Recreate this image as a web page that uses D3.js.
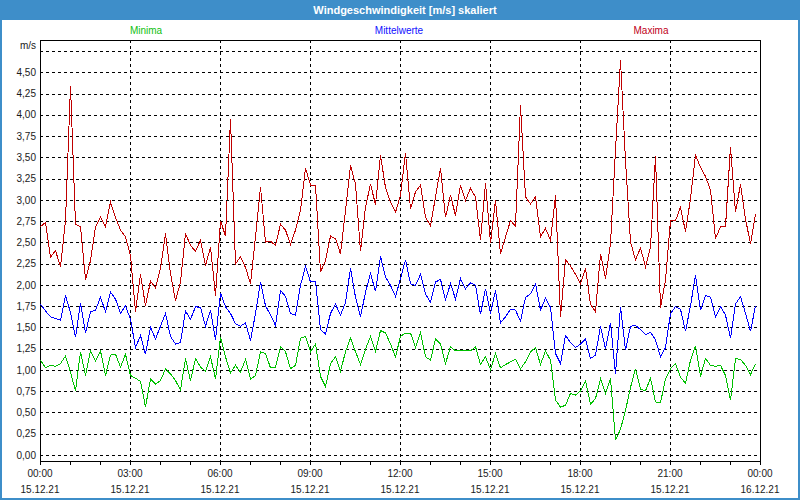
<!DOCTYPE html>
<html><head><meta charset="utf-8">
<script src="https://cdn.jsdelivr.net/npm/d3@7/dist/d3.min.js"></script>
<style>body{margin:0;background:#fff}svg{display:block}text{font-family:"Liberation Sans",Arial,sans-serif}</style>
</head><body><svg id="c" width="800" height="500"></svg>
<script>
const title = "Windgeschwindigkeit [m/s] skaliert";
const seriesNames = ["Minima", "Mittelwerte", "Maxima"];
const seriesColors = ["#00c000", "#0000ff", "#c00000"];
const legendColors = ["#10c010", "#1010ff", "#c00020"];
const unitLabel = "m/s";
const startTime = new Date(2021, 11, 15, 0, 0);
const endTime = new Date(2021, 11, 16, 0, 0);
const stepMinutes = 10;
const yTicks = [0,0.25,0.5,0.75,1,1.25,1.5,1.75,2,2.25,2.5,2.75,3,3.25,3.5,3.75,4,4.25,4.5];
const yGrid = [0,0.25,0.5,0.75,1,1.25,1.5,1.75,2,2.25,2.5,2.75,3,3.25,3.5,3.75,4,4.25,4.5,4.75];

const maxima = [2.69,2.74,2.33,2.41,2.22,2.76,4.35,2.72,2.69,2.07,2.29,2.69,2.80,2.69,2.98,2.80,
2.65,2.57,2.35,1.69,2.13,1.76,2.05,1.97,2.20,2.61,2.14,1.82,2.04,2.61,2.47,2.40,
2.53,2.23,2.45,1.88,2.76,2.58,3.96,2.25,2.34,2.21,2.02,2.57,3.16,2.51,2.52,2.47,
2.72,2.65,2.48,2.65,2.88,3.38,3.18,3.18,2.16,2.29,2.58,2.55,2.37,2.88,3.41,3.19,
2.40,2.92,3.19,2.95,3.53,3.15,2.98,2.86,3.06,3.56,2.90,3.10,3.18,2.80,2.70,3.04,
3.38,2.80,3.06,2.82,3.18,3.00,3.14,3.04,2.53,3.20,2.50,3.00,2.37,2.57,2.76,2.70,
4.12,3.04,2.96,3.04,2.57,2.67,2.53,3.06,1.63,2.30,2.23,2.13,2.02,2.20,1.78,1.69,
2.37,2.08,2.49,3.59,4.65,3.47,2.51,2.30,2.44,2.22,2.45,3.52,1.74,2.06,2.76,2.76,
2.92,2.63,3.02,3.53,3.39,3.28,3.12,2.55,2.69,2.69,3.63,2.86,3.19,2.78,2.49,2.84];

const mittel = [1.78,1.70,1.63,1.61,1.59,1.88,1.68,1.39,1.79,1.44,1.69,1.71,1.86,1.69,1.92,1.84,
1.67,1.76,1.60,1.27,1.41,1.19,1.51,1.37,1.52,1.67,1.40,1.31,1.33,1.70,1.60,1.75,
1.74,1.52,1.71,1.36,1.91,1.75,1.67,1.55,1.52,1.56,1.35,1.67,2.04,1.76,1.65,1.53,
1.94,1.87,1.67,1.65,2.00,2.22,2.04,2.05,1.48,1.43,1.67,1.78,1.65,1.80,2.20,1.86,
1.63,1.92,2.14,1.93,2.34,2.10,2.00,1.87,2.08,2.30,2.02,2.00,2.13,1.90,1.80,2.04,
2.07,1.83,2.02,1.84,2.08,1.96,2.03,2.00,1.66,1.96,1.67,1.94,1.56,1.63,1.72,1.71,
1.58,1.86,1.90,2.02,1.71,1.85,1.74,1.20,1.08,1.41,1.33,1.27,1.31,1.37,1.14,1.18,
1.52,1.25,1.56,0.96,1.75,1.24,1.52,1.53,1.48,1.42,1.45,1.36,1.16,1.27,1.67,1.75,
1.72,1.46,1.76,2.12,1.71,1.88,1.86,1.63,1.75,1.65,1.38,1.78,1.87,1.67,1.46,1.76];

const minima = [1.12,1.03,1.06,1.05,1.08,1.17,0.98,0.76,1.22,0.94,1.23,1.11,1.23,0.94,1.18,1.19,
1.04,1.19,0.94,0.91,0.87,0.57,0.90,0.84,0.88,1.02,0.96,0.88,0.77,1.14,0.88,1.14,
1.04,0.99,1.16,0.90,1.39,1.16,0.97,1.06,0.98,1.13,0.90,0.94,1.22,1.20,1.03,1.04,
1.28,1.22,1.02,1.06,1.38,1.40,1.22,1.31,0.93,0.81,1.08,1.16,0.99,1.22,1.38,1.22,
1.07,1.25,1.40,1.22,1.47,1.44,1.31,1.16,1.40,1.44,1.44,1.27,1.45,1.16,1.12,1.37,
1.31,1.08,1.28,1.23,1.23,1.23,1.23,1.28,1.07,1.16,1.01,1.20,1.03,1.07,1.10,1.13,
1.02,1.10,1.22,1.27,1.07,1.23,1.12,0.65,0.57,0.59,0.73,0.71,0.76,0.88,0.60,0.67,
0.90,0.73,0.91,0.18,0.31,0.53,0.80,1.02,0.78,0.76,0.91,0.63,0.62,0.90,1.02,1.08,
0.92,0.85,1.12,1.29,0.93,1.14,1.06,1.05,1.06,0.94,0.65,1.14,1.13,1.06,0.95,1.08];

const svg = d3.select("#c");
const W = 800, H = 500;
const frame = {left: 40, right: 760, top: 40, bottom: 461};
const borderColor = "#3e8ec9";

svg.append("rect").attr("x",1).attr("y",0).attr("width",W-2).attr("height",H-1)
  .attr("fill","#fff").attr("stroke",borderColor).attr("stroke-width",2);
svg.append("rect").attr("x",0).attr("y",0).attr("width",W).attr("height",20).attr("fill",borderColor);
svg.append("text").attr("x",405).attr("y",14).attr("text-anchor","middle")
  .attr("fill","#fff").attr("font-weight","bold").attr("font-size","11px").text(title);

const x = d3.scaleTime().domain([startTime, endTime]).range([frame.left, frame.right]);
const y = d3.scaleLinear().domain([0, 4.75]).range([455, 51]);
const py = v => Math.round(y(v)) + 0.5;
const px = t => Math.round(x(t)) + 0.5;

const g = svg.append("g");
g.selectAll("line.hg").data(yGrid).join("line")
  .attr("x1", frame.left).attr("x2", frame.right)
  .attr("y1", d => py(d)).attr("y2", d => py(d))
  .attr("stroke","#000").attr("stroke-dasharray","3,3").attr("shape-rendering","crispEdges");
const vTicks = d3.timeHour.every(3).range(startTime, endTime).slice(1);
g.selectAll("line.vg").data(vTicks).join("line")
  .attr("x1", d => px(d)).attr("x2", d => px(d))
  .attr("y1", frame.top).attr("y2", frame.bottom)
  .attr("stroke","#000").attr("stroke-dasharray","3,3").attr("shape-rendering","crispEdges");

svg.append("rect").attr("x",frame.left+0.5).attr("y",frame.top+0.5)
  .attr("width",frame.right-frame.left).attr("height",frame.bottom-frame.top)
  .attr("fill","none").attr("stroke","#000").attr("shape-rendering","crispEdges");

const fmt = d3.formatLocale({decimal:",", thousands:".", grouping:[3], currency:["","€"]}).format(".2f");
const yAxis = d3.axisLeft(y).tickValues(yTicks).tickFormat(fmt).tickSize(0).tickPadding(4);
const ya = svg.append("g").attr("transform",`translate(${frame.left},0)`).call(yAxis);
ya.select(".domain").remove();
ya.selectAll("text").attr("font-size","10px").attr("fill","#1a1a1a").attr("font-family","Liberation Sans, Arial, sans-serif");
svg.append("text").attr("x",36).attr("y",49).attr("text-anchor","end")
  .attr("font-size","10px").attr("fill","#1a1a1a").text(unitLabel);

const minorAxis = d3.axisBottom(x).ticks(d3.timeHour.every(1)).tickFormat("").tickSize(4);
const xa1 = svg.append("g").attr("transform",`translate(0,${frame.bottom})`).call(minorAxis);
xa1.select(".domain").remove();
xa1.selectAll("line").attr("stroke","#000").attr("shape-rendering","crispEdges");
const fTime = d3.timeFormat("%H:%M"), fDate = d3.timeFormat("%d.%m.%y");
const labelTicks = d3.timeHour.every(3).range(startTime, new Date(+endTime + 1));
const lab = svg.append("g").selectAll("text").data(labelTicks).join("text")
  .attr("text-anchor","middle").attr("font-size","10px").attr("fill","#1a1a1a");
lab.append("tspan").attr("x", d => x(d)).attr("y", 477).text(d => fTime(d));
lab.append("tspan").attr("x", d => x(d)).attr("y", 493).text(d => fDate(d));

const legendX = [146, 399, 651];
svg.selectAll("text.leg").data(seriesNames).join("text")
  .attr("x", (d,i) => legendX[i]).attr("y", 34).attr("text-anchor","middle")
  .attr("font-size","10px").attr("fill", (d,i) => legendColors[i]).text(d => d);

const times = minima.map((d,i) => new Date(+startTime + i*stepMinutes*60000));
const line = d3.line().x((d,i) => x(times[i]) + 0.5).y(d => y(d) + 0.5);
[minima, mittel, maxima].forEach((s, k) => {
  svg.append("path").datum(s).attr("d", line).attr("fill","none")
    .attr("stroke", seriesColors[k]).attr("stroke-width",1)
    .attr("shape-rendering","crispEdges");
});
</script></body></html>
